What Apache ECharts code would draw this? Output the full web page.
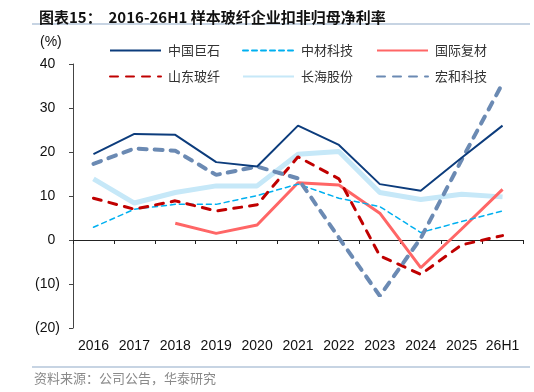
<!DOCTYPE html>
<html>
<head>
<meta charset="utf-8">
<script src="https://cdn.jsdelivr.net/npm/echarts@6/dist/echarts.min.js"></script>
<style>
  html, body { margin: 0; padding: 0; background: #fff; }
  #chart { width: 534px; height: 392px; }
</style>
</head>
<body>
<div id="chart"></div>
<script>
var years = ['2016', '2017', '2018', '2019', '2020', '2021', '2022', '2023', '2024', '2025', '26H1']
// 扣非归母净利率 (%)
var jushi = [19.5, 24.1, 23.9, 17.7, 16.7, 26.0, 21.6, 12.7, 11.2, 18.7, 26.0]
var zhongcai = [2.9, 7.0, 8.1, 8.1, 10.1, 12.7, 9.5, 7.6, 1.7, 4.2, 6.6]
var guoji = ['-', '-', 3.8, 1.5, 3.4, 13.0, 12.5, 6.1, -6.3, 2.5, 11.5]
var shandong = [9.5, 7.0, 8.9, 6.6, 8.0, 18.9, 13.9, -3.6, -7.8, -1.1, 1.0]
var changhai = [13.9, 8.4, 10.8, 12.3, 12.3, 19.5, 20.1, 10.8, 9.2, 10.4, 9.8]
var honghe = [17.3, 20.8, 20.3, 14.8, 16.7, 14.0, 0.5, -12.7, 0.4, 18.2, 35.6]

var names = ['中国巨石', '中材科技', '国际复材', '山东玻纤', '长海股份', '宏和科技']
var legendPos = [[109, 44], [242, 44], [376, 44], [109, 70], [242, 70], [376, 70]]

var cjk = '"Noto Sans CJK SC", sans-serif'
var num = '"Liberation Sans", Arial, sans-serif'

var chart = echarts.init(document.getElementById('chart'))

function line(name, data, color, width, dash) {
  return {
    name: name,
    type: 'line',
    data: data,
    symbol: 'none',
    z: 3,
    lineStyle: { color: color, width: width, type: dash || 'solid', cap: dash ? 'round' : 'butt' },
    itemStyle: { color: color }
  }
}

chart.setOption({
  animation: false,
  title: {
    text: '图表15：  2016-26H1 样本玻纤企业扣非归母净利率',
    left: 34,
    top: 5,
    textStyle: { fontFamily: cjk, fontSize: 15, fontWeight: 'bold', color: '#111' }
  },
  legend: names.map(function(n, i) {
    return {
      data: [n],
      left: legendPos[i][0],
      top: legendPos[i][1],
      itemWidth: 51,
      itemHeight: 14,
      padding: 0,
      selectedMode: false,
      itemStyle: { opacity: 0 },
      textStyle: { fontFamily: cjk, fontSize: 13, color: '#333', padding: [0, 0, 0, 2] }
    }
  }),
  grid: { left: 73, right: 11, top: 64, bottom: 64 },
  xAxis: [{
    type: 'category',
    data: years,
    position: 'bottom',
    axisLine: { show: false, onZero: false },
    axisTick: { show: false },
    axisLabel: { fontFamily: num, fontSize: 14, color: '#111', margin: 11, interval: 0 }
  }, {
    type: 'category',
    data: years,
    position: 'bottom',
    axisLine: { onZero: true, lineStyle: { color: '#222', width: 1 } },
    axisTick: { show: true, length: 4, lineStyle: { color: '#222' } },
    axisLabel: { show: false }
  }],
  yAxis: {
    type: 'value',
    min: -20,
    max: 40,
    interval: 10,
    axisLine: { show: true, lineStyle: { color: '#444' } },
    axisTick: { show: true, length: 4, lineStyle: { color: '#444' } },
    splitLine: { show: false },
    axisLabel: {
      margin: 13,
      fontFamily: num,
      fontSize: 14,
      color: '#111',
      formatter: function(v) {
        return v < 0 ? '(' + (-v) + ')' : v + '{h|)}'
      },
      rich: { h: { color: 'transparent', fontFamily: num, fontSize: 14 } }
    }
  },
  graphic: [
    { type: 'line', shape: { x1: 32, y1: 24, x2: 530, y2: 24 }, style: { stroke: '#b4c6da', lineWidth: 1.5 } },
    { type: 'text', left: 40, top: 35, style: { text: '(%)', font: '14px "Liberation Sans", Arial', fill: '#111' } },
    { type: 'line', shape: { x1: 32, y1: 367, x2: 530, y2: 367 }, style: { stroke: '#b4c6da', lineWidth: 1.5 } },
    { type: 'text', left: 34, top: 372, style: { text: '资料来源：公司公告，华泰研究', font: '13px "Noto Sans CJK SC"', fill: '#8a8a8a' } }
  ],
  series: [
    line('长海股份', changhai, '#c6e8f8', 5),
    line('国际复材', guoji, '#ff6666', 3),
    line('中材科技', zhongcai, '#00b0f0', 1.5, [5, 4]),
    line('山东玻纤', shandong, '#c00000', 3, [8, 8]),
    line('宏和科技', honghe, '#6b8ab3', 4, [8, 8]),
    line('中国巨石', jushi, '#0c3c7c', 2)
  ]
})
</script>
</body>
</html>
